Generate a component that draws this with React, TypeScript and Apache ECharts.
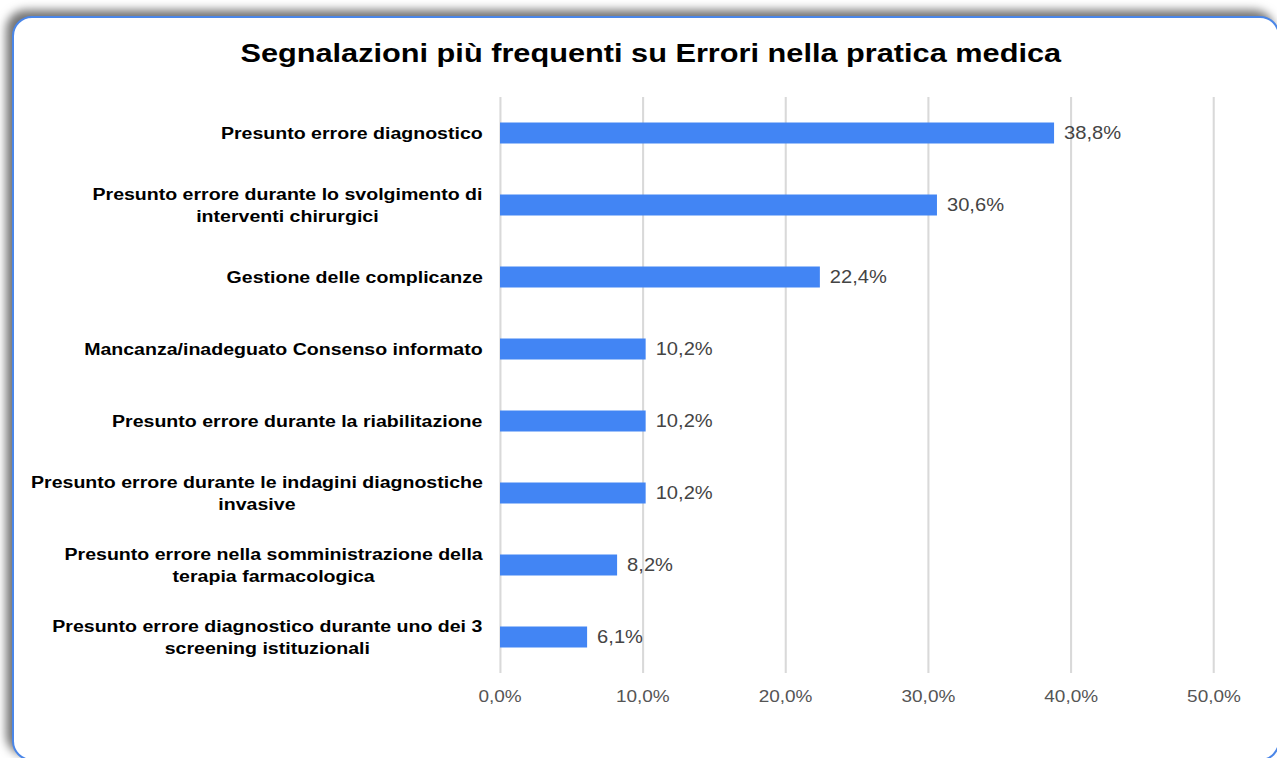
import React, { useEffect, useRef } from "react";
import * as echarts from "echarts";

const TITLE = "Segnalazioni più frequenti su Errori nella pratica medica";

const categories: string[] = [
  "Presunto errore diagnostico",
  "Presunto errore durante lo svolgimento di\ninterventi chirurgici",
  "Gestione delle complicanze",
  "Mancanza/inadeguato Consenso informato",
  "Presunto errore durante la riabilitazione",
  "Presunto errore durante le indagini diagnostiche\ninvasive",
  "Presunto errore nella somministrazione della\nterapia farmacologica",
  "Presunto errore diagnostico durante uno dei 3\nscreening istituzionali",
];

const values: number[] = [38.8, 30.6, 22.4, 10.2, 10.2, 10.2, 8.2, 6.1];

const xTicks: number[] = [0, 10, 20, 30, 40, 50];

const FONT = "'Liberation Sans', Arial, sans-serif";
const LABEL_SIZE = 17;

// the reference rendering is horizontally stretched; reproduce with scaleX
const PAGE_W = 1277;
const PAGE_H = 758;
const CHART_W = 1110;
const SX = PAGE_W / CHART_W;

const fmt = (v: number) => v.toFixed(1).replace(".", ",") + "%";

function measure(text: string, font: string): number {
  const c = document.createElement("canvas");
  const ctx = c.getContext("2d");
  if (!ctx) return text.length * 8;
  ctx.font = font;
  return ctx.measureText(text).width;
}

export default function App() {
  const ref = useRef<HTMLDivElement>(null);

  useEffect(() => {
    if (!ref.current) return;
    const chart = echarts.init(ref.current, undefined, { renderer: "svg" });

    const rich: Record<string, any> = {};
    categories.forEach((c, i) => {
      const lines = c.split("\n");
      const w = Math.ceil(
        Math.max(...lines.map((l) => measure(l, `bold ${LABEL_SIZE}px ${FONT}`)))
      );
      rich["c" + i] = {
        width: w,
        align: "center",
        fontWeight: "bold",
        fontSize: LABEL_SIZE,
        fontFamily: FONT,
        color: "#000",
        lineHeight: 22,
      };
    });

    chart.setOption({
      animation: false,
      backgroundColor: "transparent",
      title: {
        text: TITLE,
        left: 645 / SX,
        textAlign: "center",
        top: 34,
        textStyle: {
          fontFamily: FONT,
          fontWeight: "bold",
          fontSize: 26.7,
          color: "#000",
        },
      },
      grid: {
        left: 500 / SX,
        right: 63 / SX,
        top: 97,
        bottom: 85,
        containLabel: false,
      },
      xAxis: {
        type: "value",
        min: xTicks[0],
        max: xTicks[xTicks.length - 1],
        interval: 10,
        axisLine: { show: false },
        axisTick: { show: false },
        splitLine: { show: true, lineStyle: { color: "#d9d9d9", width: 1.8 } },
        axisLabel: {
          formatter: (v: number) => fmt(v),
          color: "#555",
          fontSize: 16.5,
          fontFamily: FONT,
          margin: 15,
        },
      },
      yAxis: {
        type: "category",
        inverse: true,
        data: categories,
        axisLine: { show: false },
        axisTick: { show: false },
        splitLine: { show: false },
        axisLabel: {
          margin: 17 / SX,
          align: "right",
          formatter: (v: string, i: number) =>
            v
              .split("\n")
              .map((l) => `{c${i}|${l}}`)
              .join("\n"),
          rich,
        },
      },
      series: [
        {
          type: "bar",
          data: values,
          barWidth: 21,
          itemStyle: { color: "#4285f4" },
          label: {
            show: true,
            position: "right",
            distance: 10 / SX,
            formatter: (p: any) => fmt(p.value),
            color: "#444",
            fontSize: 17.5,
            fontFamily: FONT,
          },
        },
      ],
    });

    return () => chart.dispose();
  }, []);

  return (
    <div
      style={{
        position: "fixed",
        left: 0,
        top: 0,
        width: PAGE_W,
        height: PAGE_H,
        overflow: "hidden",
        background: "#ffffff",
      }}
    >
      <div
        style={{
          position: "absolute",
          left: 12,
          top: 16,
          width: 1268,
          height: 745,
          boxSizing: "border-box",
          border: "2px solid #4a86e8",
          borderRadius: 20,
          background: "#fff",
          boxShadow: "-6px -6px 10px rgba(0,0,0,0.55)",
        }}
      />
      <div
        ref={ref}
        style={{
          position: "absolute",
          left: 0,
          top: 0,
          width: CHART_W,
          height: PAGE_H,
          transform: `scaleX(${SX})`,
          transformOrigin: "0 0",
        }}
      />
    </div>
  );
}
